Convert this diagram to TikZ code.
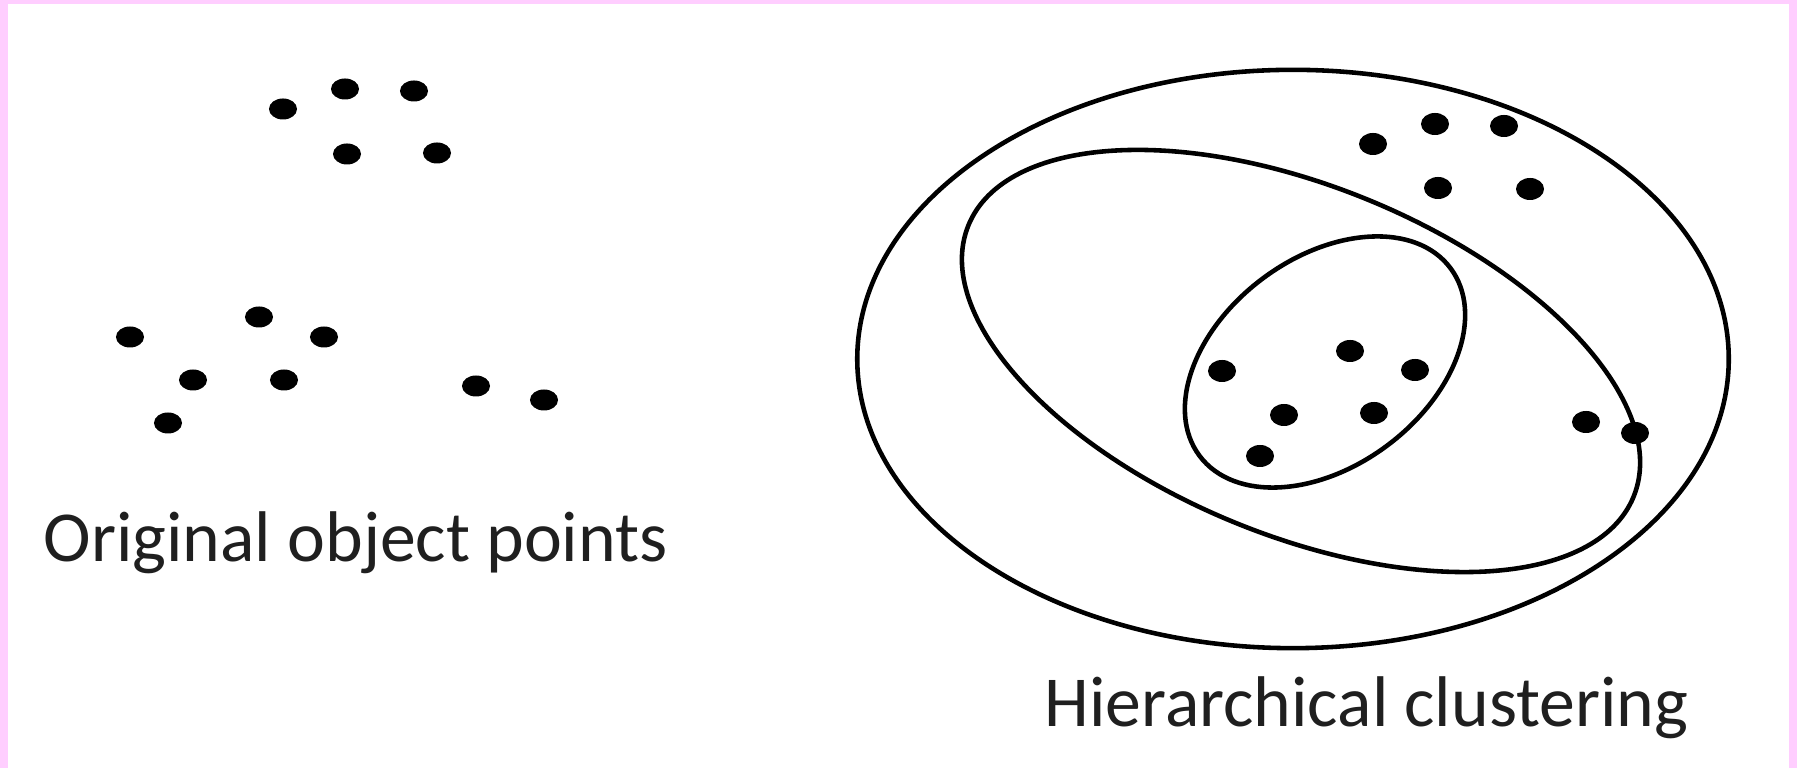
\documentclass[tikz,border=0pt]{standalone}
\usepackage{fontspec}
\setmainfont{Carlito}
\usepackage{tikz}
\usetikzlibrary{positioning}
\definecolor{framepink}{RGB}{255,206,255}
\tikzset{
  %% ---- shapes ----
  dot/.style     = {fill=black},
  hull/.style    = {draw=black, line width=1.3pt},
  caption/.style = {font=\fontsize{20.4}{22}\selectfont, text=black!88,
                    inner sep=0pt},
}
\begin{document}
\begin{tikzpicture}[x=0.01cm, y=-0.01cm]
\useasboundingbox (0,0) rectangle (1797,768);
\fill[framepink] (0,0) rectangle (1797,768);
\fill[white] (8,4) rectangle (1789,768);

%% left: the raw points
\foreach \px/\py in {283/109, 345/89, 414/91, 347/154, 437/153,
                     130/337, 259/317, 324/337, 193/380, 284/380,
                     168/423, 476/386, 544/400}
  \fill[dot] (\px,\py) ellipse [x radius=0.14cm, y radius=0.105cm];
\node[caption, anchor=base west] (orig) at (43,562) {Original object points};

%% right: nested clusters
\draw[hull] (1293,359) ellipse [x radius=4.355cm, y radius=2.89cm];
\draw[hull, rotate around={-22.2:(1301,361)}]
  (1301,361) ellipse [x radius=3.59cm, y radius=1.745cm];
\draw[hull, rotate around={36.8:(1325,362)}]
  (1325,362) ellipse [x radius=1.566cm, y radius=1.041cm];
\foreach \px/\py in {1373/144, 1435/124, 1504/126, 1438/188, 1530/189,
                     1350/351, 1222/371, 1415/370, 1284/415, 1374/413,
                     1260/456, 1586/422, 1635/433}
  \fill[dot] (\px,\py) ellipse [x radius=0.14cm, y radius=0.11cm];
\node[caption, anchor=base west] (hier) at (1044,727) {Hierarchical clustering};
\end{tikzpicture}
\end{document}
